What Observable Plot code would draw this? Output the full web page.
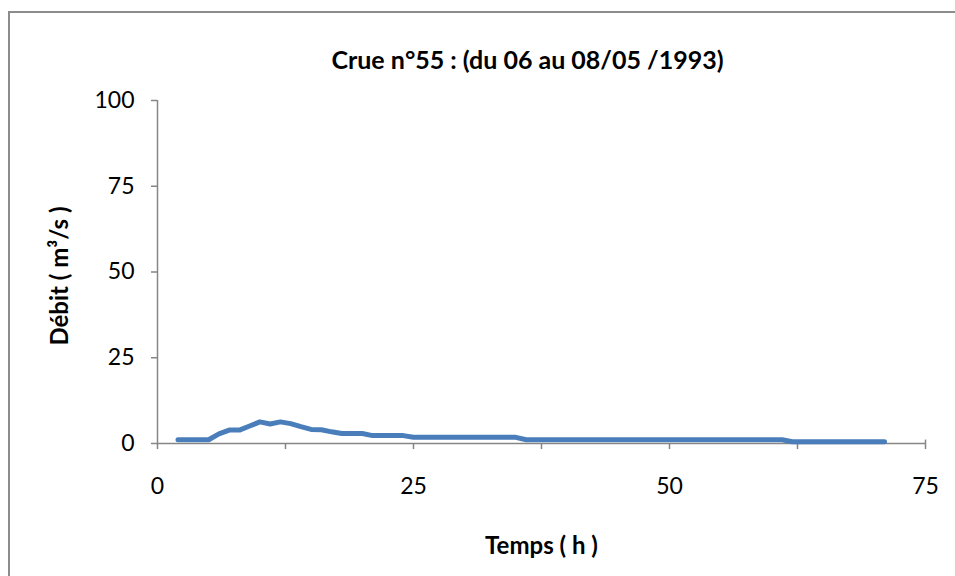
<!DOCTYPE html>
<html>
<head>
<meta charset="utf-8">
<script src="https://cdn.jsdelivr.net/npm/d3@7"></script>
<script src="https://cdn.jsdelivr.net/npm/@observablehq/plot@0.6"></script>
<style>
  html, body { margin: 0; padding: 0; background: #fff; }
  #wrap { position: relative; width: 955px; height: 576px; overflow: hidden; }
  #frame { position: absolute; left: 8px; top: 11px; width: 960px; height: 600px; border: 2px solid #8c8c8c; box-sizing: border-box; }
  #chart { position: absolute; left: 0; top: 0; }
</style>
</head>
<body>
<div id="wrap"><div id="frame"></div><div id="chart"></div></div>
<script>
const title = "Crue n°55 : (du 06 au 08/05 /1993)";
const xLabel = "Temps ( h )";
const yLabel = "Débit ( m³/s )";
const xTicks = [0, 12.5, 25, 37.5, 50, 62.5, 75];
const xTickLabels = [0, 25, 50, 75];
const yTicks = [0, 25, 50, 75, 100];

const hours = [2,3,4,5,6,7,8,9,10,11,12,13,14,15,16,17,18,19,20,21,22,23,24,
  25,26,27,28,29,30,31,32,33,34,35,
  36,37,38,39,40,41,42,43,44,45,46,47,48,49,50,51,52,53,54,55,56,57,58,59,60,61,
  62,63,64,65,66,67,68,69,70,71];
const flow = [1.1,1.1,1.1,1.1,2.8,3.9,3.9,5.1,6.3,5.7,6.3,5.8,4.9,4.1,4.0,3.4,2.9,2.9,2.9,2.3,2.3,2.3,2.3,
  1.8,1.8,1.8,1.8,1.8,1.8,1.8,1.8,1.8,1.8,1.8,
  1.1,1.1,1.1,1.1,1.1,1.1,1.1,1.1,1.1,1.1,1.1,1.1,1.1,1.1,1.1,1.1,1.1,1.1,1.1,1.1,1.1,1.1,1.1,1.1,1.1,1.1,
  0.5,0.5,0.5,0.5,0.5,0.5,0.5,0.5,0.5,0.5];

const data = hours.map((h, i) => ({h, q: flow[i]}));
const font = "Lato, 'Open Sans', sans-serif";
const axisGray = "#868686";

const chart = Plot.plot({
  width: 955,
  height: 576,
  marginLeft: 157,
  marginRight: 30,
  marginTop: 100,
  marginBottom: 133,
  style: { fontFamily: font, fontSize: "23px", background: "transparent", overflow: "visible" },
  x: { domain: [0, 75] },
  y: { domain: [0, 100] },
  marks: [
    Plot.ruleY([0], { stroke: axisGray, strokeWidth: 1.5 }),
    Plot.ruleX([0], { stroke: axisGray, strokeWidth: 1.5 }),
    Plot.axisX({ ticks: xTicks, tickSize: 6, stroke: axisGray, strokeWidth: 1.5, tickFormat: () => "", label: null }),
    Plot.ruleX([75], { y1: 0, y2: 1, stroke: axisGray, strokeWidth: 1.5 }),
    Plot.axisX({ ticks: xTickLabels, tickSize: 0, tickPadding: 34, fill: "black", fontSize: 23, label: null }),
    Plot.axisY({ ticks: yTicks, tickSize: 6, stroke: axisGray, strokeWidth: 1.5, tickPadding: 17, fill: "black", fontSize: 23, label: null }),
    Plot.line(data, { x: "h", y: "q", stroke: "#4a7ebb", strokeWidth: 5, strokeLinejoin: "round", strokeLinecap: "round" }),
    Plot.text([title], { frameAnchor: "top", dy: -49, dx: -14, text: d => d, fontWeight: "bold", fontSize: 25, fill: "black" }),
    Plot.text([xLabel], { frameAnchor: "bottom", dy: 110, text: d => d, fontWeight: "bold", fontSize: 24, fill: "black" }),
    Plot.text([yLabel], { frameAnchor: "left", textAnchor: "middle", dx: -97, dy: 4, rotate: -90, text: d => d, fontWeight: "bold", fontSize: 24, fill: "black" })
  ]
});
document.getElementById("chart").appendChild(chart);
</script>
</body>
</html>
